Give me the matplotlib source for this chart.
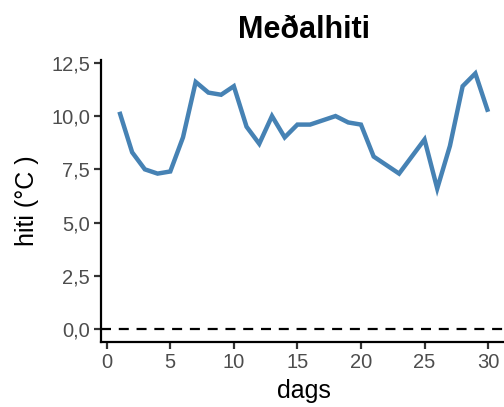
import matplotlib
matplotlib.use("Agg")
import matplotlib.pyplot as plt
import matplotlib.ticker as mticker

plt.rcParams['font.family'] = ['Liberation Sans', 'DejaVu Sans']

days = list(range(1, 31))
temps = [10.2, 8.3, 7.5, 7.3, 7.4, 9.0, 11.6, 11.1, 11.0, 11.4,
         9.5, 8.7, 10.0, 9.0, 9.6, 9.6, 9.8, 10.0, 9.7, 9.6,
         8.1, 7.7, 7.3, 8.1, 8.9, 6.6, 8.6, 11.4, 12.0, 10.2]
yticks = [0, 2.5, 5, 7.5, 10, 12.5]
xticks = [0, 5, 10, 15, 20, 25, 30]

W, H = 504, 407
fig = plt.figure(figsize=(W / 100, H / 100), dpi=100)
left, right, top, bottom = 101, 506.5, 60, 342
ax = fig.add_axes([left / W, 1 - bottom / H, (right - left) / W, (bottom - top) / H])

ax.plot(days, temps, color='#4682B4', lw=3.2, solid_joinstyle='miter', solid_capstyle='butt')
ax.axhline(0, color='black', lw=1.6, ls=(0, (4.5, 3.5)))

ax.set_xlim(-0.45, 31.45)
ax.set_ylim(-0.6, 12.63)
ax.set_xticks(xticks)
ax.set_yticks(yticks)
ax.yaxis.set_major_formatter(mticker.FuncFormatter(lambda v, p: f"{v:.1f}".replace('.', ',')))
for s in ['top', 'right']:
    ax.spines[s].set_visible(False)
for s in ['left', 'bottom']:
    ax.spines[s].set_linewidth(1.6)
    ax.spines[s].set_color('black')
ax.tick_params(axis='both', length=5, width=1.6, color='#333333', labelsize=14.5,
               labelcolor='#4D4D4D', pad=3)
ax.set_xlabel('dags', fontsize=18, labelpad=5)
ax.set_ylabel('hiti (°C )', fontsize=18, labelpad=9)
fig.text(304 / W, 1 - 30 / H, 'Meðalhiti', fontsize=22, fontweight='bold', ha='center', va='center')

fig.savefig('out.png', dpi=100)
